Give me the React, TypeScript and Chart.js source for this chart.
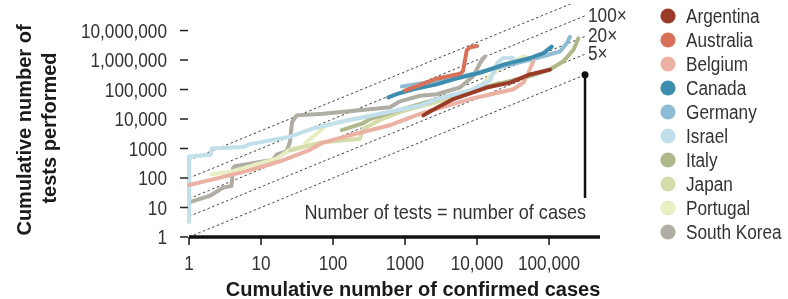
import React, { useEffect, useRef } from "react";
import { Chart, registerables } from "chart.js";

Chart.register(...registerables);

const countries = ["Argentina", "Australia", "Belgium", "Canada", "Germany", "Israel", "Italy", "Japan", "Portugal", "South Korea"];
const colors = ["#9a3b28", "#d9715a", "#ebb1a3", "#3d8eae", "#8dbcd3", "#c2e0ec", "#aeb88a", "#d4dcaa", "#e8eec2", "#b0ada3"];

const argentinaCases = [1800, 2350, 4700, 13600, 28700, 54400, 103000];
const argentinaTests = [13300, 19500, 47500, 117000, 171000, 324000, 475000];

const australiaCases = [1000, 2750, 5800, 6400, 7200, 8000, 10000];
const australiaTests = [92600, 233000, 341000, 430000, 2150000, 2710000, 3000000];

const belgiumCases = [1, 2.15, 6.3, 18.4, 47.9, 72.6, 213, 619, 1615, 2750, 8000, 31900, 44000, 51600, 60500];
const belgiumTests = [58, 90, 171, 369, 905, 1585, 3240, 6170, 15000, 22000, 47500, 102000, 171000, 369000, 905000];

const canadaCases = [586, 767, 1300, 2750, 4690, 11000, 23200, 54400, 83400, 109000];
const canadaTests = [54100, 69700, 102000, 150000, 220000, 369000, 697000, 1170000, 1710000, 2860000];

const germanyCases = [900, 2750, 8000, 23200, 67500, 142000, 176000, 196000];
const germanyTests = [126000, 195000, 324000, 617000, 1170000, 1950000, 3690000, 6170000];

const israelCases = [1, 1, 2, 2.07, 5.6, 7, 25.3, 52.7, 125, 450, 1615, 2750, 8000, 15100, 19000, 23000, 31600];
const israelTests = [3.2, 541, 617, 1000, 1120, 1410, 2510, 4750, 7940, 15000, 28600, 47500, 92600, 200000, 794000, 1170000, 1170000];

const italyCases = [132, 253, 327, 947, 2750, 8000, 23200, 54400, 103000, 158000, 218000, 255000];
const italyTests = [4200, 6970, 10000, 22000, 47500, 90500, 171000, 286000, 475000, 905000, 2200000, 5400000];

const japanCases = [25.3, 66, 125, 237, 261, 450, 853, 2220, 5800, 15100, 20000];
const japanTests = [858, 1585, 1850, 2150, 4640, 9260, 17100, 34100, 63100, 126000, 170000];

const portugalCases = [2.07, 4.08, 16.7, 25.3, 38.3, 42.2, 82.5, 190, 619, 1615, 4220, 11000, 16700, 23000, 46400];
const portugalTests = [133, 171, 464, 926, 1170, 1585, 6310, 10000, 15800, 27100, 46400, 126000, 369000, 681000, 1360000];

const koreaCases = [1, 1.42, 1.96, 3.0, 3.9, 4.1, 4.35, 14.8, 16.5, 22.7, 25.3, 27, 31.3, 73.3, 213, 619, 853, 1615, 2750, 5800, 8890, 11000, 12900];
const koreaTests = [15, 19.5, 25, 47.5, 54, 220, 251, 420, 617, 794, 1710, 7940, 13300, 15000, 19500, 25100, 39800, 61700, 69700, 117000, 286000, 794000, 1330000];

const seriesCases = [argentinaCases, australiaCases, belgiumCases, canadaCases, germanyCases, israelCases, italyCases, japanCases, portugalCases, koreaCases];
const seriesTests = [argentinaTests, australiaTests, belgiumTests, canadaTests, germanyTests, israelTests, italyTests, japanTests, portugalTests, koreaTests];

// Reference ratio lines (tests = k × cases)
const ratios = [1, 5, 20, 100, 400];
const ratioLabels = ["", "5×", "20×", "100×", ""];
const ratioStart = 1;
const ratioEnd = 316000;
const annotationBottom = 21;

const xTicks = [1, 10, 100, 1000, 10000, 100000];
const xTickLabels = ["1", "10", "100", "1000", "10,000", "100,000"];
const yTicks = [1, 10, 100, 1000, 10000, 100000, 1000000, 10000000];
const yTickLabels = ["1", "10", "100", "1000", "10,000", "100,000", "1,000,000", "10,000,000"];

const xMin = 1;
const xMax = 510000;
const yMin = 1;
const yMax = Math.pow(10, 7.9);

const FONT = "'Liberation Sans', Arial, sans-serif";

function condensedText(ctx: any, text: string, x: number, y: number, align: string, squeeze: number) {
  ctx.save();
  ctx.translate(x, y);
  ctx.scale(squeeze, 1);
  ctx.textAlign = align;
  ctx.fillText(text, 0, 0);
  ctx.restore();
}

const decorPlugin = {
  id: "decor",
  afterDraw(chart: any) {
    const { ctx, chartArea, scales } = chart;
    const xs = scales.x;
    const ys = scales.y;
    const SQ = 0.86;
    ctx.save();

    // y ticks + labels
    ctx.strokeStyle = "#222";
    ctx.lineWidth = 1.5;
    ctx.fillStyle = "#333";
    ctx.font = `20px ${FONT}`;
    ctx.textBaseline = "alphabetic";
    yTicks.forEach((v, i) => {
      const py = ys.getPixelForValue(v);
      ctx.beginPath();
      ctx.moveTo(chartArea.left - 9, py);
      ctx.lineTo(chartArea.left - 1, py);
      ctx.stroke();
      condensedText(ctx, yTickLabels[i], chartArea.left - 22, py + 7, "right", SQ);
    });

    // x axis line
    ctx.strokeStyle = "#111";
    ctx.lineWidth = 3.5;
    ctx.beginPath();
    ctx.moveTo(chartArea.left, chartArea.bottom);
    ctx.lineTo(chartArea.right, chartArea.bottom);
    ctx.stroke();

    // x ticks + labels
    ctx.lineWidth = 1.5;
    xTicks.forEach((v, i) => {
      const px = xs.getPixelForValue(v);
      ctx.beginPath();
      ctx.moveTo(px, chartArea.bottom);
      ctx.lineTo(px, chartArea.bottom + 8);
      ctx.stroke();
      condensedText(ctx, xTickLabels[i], px, chartArea.bottom + 33, "center", SQ);
    });

    // ratio labels
    ctx.fillStyle = "#333";
    ratios.forEach((k, i) => {
      if (!ratioLabels[i]) return;
      const px = xs.getPixelForValue(ratioEnd);
      const py = ys.getPixelForValue(k * ratioEnd);
      condensedText(ctx, ratioLabels[i], px + 3, py + 6, "left", SQ);
    });

    // annotation text
    ctx.font = `21px ${FONT}`;
    condensedText(ctx, "Number of tests = number of cases", xs.getPixelForValue(ratioEnd) + 1, ys.getPixelForValue(annotationBottom) + 21, "right", 0.86);

    // axis titles
    ctx.fillStyle = "#1a1a1a";
    ctx.font = `bold 20px ${FONT}`;
    ctx.textAlign = "center";
    ctx.fillText("Cumulative number of confirmed cases", 413, 296);
    ctx.save();
    ctx.translate(25, 130);
    ctx.rotate(-Math.PI / 2);
    ctx.textBaseline = "middle";
    ctx.fillText("Cumulative number of", 0, 0);
    ctx.restore();
    ctx.save();
    ctx.translate(50, 128);
    ctx.rotate(-Math.PI / 2);
    ctx.textBaseline = "middle";
    ctx.fillText("tests performed", 0, 0);
    ctx.restore();

    // legend
    ctx.font = `20px ${FONT}`;
    ctx.textBaseline = "alphabetic";
    countries.forEach((name, i) => {
      const cy = 16 + i * 24;
      ctx.beginPath();
      ctx.arc(668, cy, 7.6, 0, Math.PI * 2);
      ctx.fillStyle = colors[i];
      ctx.fill();
      ctx.fillStyle = "#333";
      condensedText(ctx, name, 686, cy + 7, "left", SQ);
    });

    ctx.restore();
  },
};

export default function App() {
  const ref = useRef<HTMLCanvasElement | null>(null);

  useEffect(() => {
    if (!ref.current) return;
    const dataSets: any[] = countries.map((name, i) => ({
      label: name,
      data: seriesCases[i].map((c, j) => ({ x: c, y: seriesTests[i][j] })),
      borderColor: colors[i],
      backgroundColor: colors[i],
      borderWidth: 4,
      pointRadius: 0,
      borderCapStyle: "round",
      borderJoinStyle: "round",
      clip: false,
      tension: 0,
    }));
    ratios.forEach((k, i) => {
      dataSets.push({
        label: `${k}x`,
        data: [
          { x: ratioStart, y: k * ratioStart },
          { x: ratioEnd, y: k * ratioEnd },
        ],
        borderColor: "#444",
        borderWidth: 1,
        borderDash: [2.5, 2.5],
        pointRadius: k === 1 ? [0, 3.5] : 0,
        pointBackgroundColor: "#111",
        pointBorderWidth: 0,
        clip: i === ratios.length - 1 ? { left: 0, top: 0, right: 0, bottom: 0 } : false,
      });
    });
    dataSets.push({
      label: "annotation",
      data: [
        { x: ratioEnd, y: ratioEnd },
        { x: ratioEnd, y: annotationBottom },
      ],
      borderColor: "#111",
      borderWidth: 2.5,
      pointRadius: 0,
      clip: false,
    });

    const chart = new Chart(ref.current, {
      type: "line",
      data: { datasets: dataSets },
      options: {
        responsive: false,
        animation: false,
        devicePixelRatio: 1,
        layout: { padding: { left: 189, right: 188, top: 0, bottom: 62 } },
        plugins: { legend: { display: false }, tooltip: { enabled: false } },
        scales: {
          x: { type: "logarithmic", min: xMin, max: xMax, display: false },
          y: { type: "logarithmic", min: yMin, max: yMax, display: false },
        },
      },
      plugins: [decorPlugin],
    } as any);
    return () => chart.destroy();
  }, []);

  return (
    <div style={{ position: "absolute", left: 0, top: 0, width: 788, height: 299, background: "#fff" }}>
      <canvas ref={ref} width={788} height={299} style={{ display: "block" }} />
    </div>
  );
}
